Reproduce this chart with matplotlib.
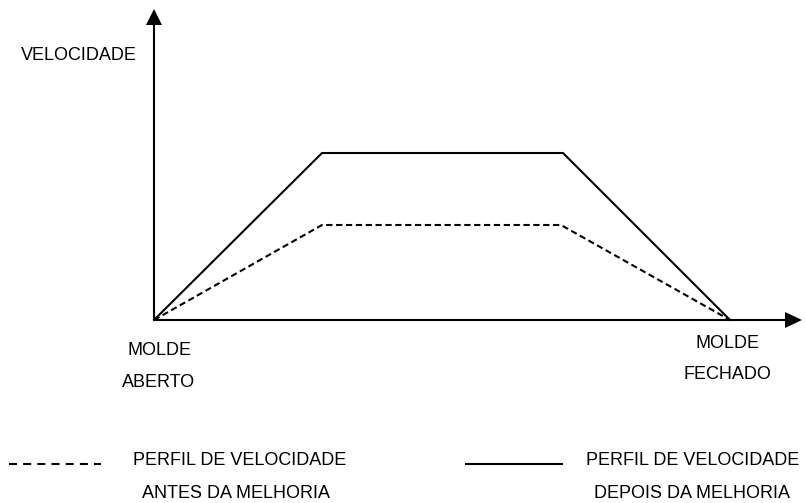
import matplotlib
matplotlib.use("Agg")
import matplotlib.pyplot as plt

plt.rcParams['font.family'] = ['Liberation Sans', 'DejaVu Sans']
plt.rcParams['lines.scale_dashes'] = False

# perfis de velocidade (posicao do molde x velocidade), unidades do desenho
pos_depois = [0, 168, 409, 576]
vel_depois = [0, 167, 167, 0]
pos_antes = [0, 168, 407, 576]
vel_antes = [0, 95, 95, 0]

label_y = "VELOCIDADE"
label_inicio = ["MOLDE", "ABERTO"]
label_fim = ["MOLDE", "FECHADO"]
leg_antes = ["PERFIL DE VELOCIDADE", "ANTES DA MELHORIA"]
leg_depois = ["PERFIL DE VELOCIDADE", "DEPOIS DA MELHORIA"]

fig = plt.figure(figsize=(8.05, 5.03), dpi=100)
ax = fig.add_axes([0, 0, 1, 1])
ax.set_xlim(-154, 651)
ax.set_ylim(-183, 320)
ax.axis('off')

lw = 1.5
dash_perfil = (0, (4.5, 2.6))
dash_leg = (0, (5.8, 4.4))

# eixos com setas
ax.plot([0, 0], [0, 296], color='black', lw=lw, solid_capstyle='butt')
ax.plot([0, 632], [0, 0], color='black', lw=lw, solid_capstyle='butt')
ax.fill([-8, 8, 0], [295, 295, 311], color='black', lw=0)
ax.fill([631, 631, 648], [8, -8, 0], color='black', lw=0)

ax.plot(pos_depois, vel_depois, color='black', lw=lw)
ax.plot(pos_antes, vel_antes, color='black', lw=lw, linestyle=dash_perfil)

fs = 13
ax.text(-133, 260, label_y, fontsize=fs, ha='left', va='baseline')
ax.text(5.5, -35, label_inicio[0], fontsize=fs, ha='center', va='baseline')
ax.text(5, -67, label_inicio[1], fontsize=fs, ha='center', va='baseline')
ax.text(573.5, -28, label_fim[0], fontsize=fs, ha='center', va='baseline')
ax.text(573.5, -59, label_fim[1], fontsize=fs, ha='center', va='baseline')

# legenda
ax.plot([-145, -53], [-144, -144], color='black', lw=lw, linestyle=dash_leg)
ax.text(85.5, -145, leg_antes[0], fontsize=fs, ha='center', va='baseline')
ax.text(81.5, -178, leg_antes[1], fontsize=fs, ha='center', va='baseline')
ax.plot([311, 409], [-144, -144], color='black', lw=lw, solid_capstyle='butt')
ax.text(539, -145, leg_depois[0], fontsize=fs, ha='center', va='baseline')
ax.text(537.5, -178, leg_depois[1], fontsize=fs, ha='center', va='baseline')

fig.savefig("out.png", dpi=100, facecolor='white')
